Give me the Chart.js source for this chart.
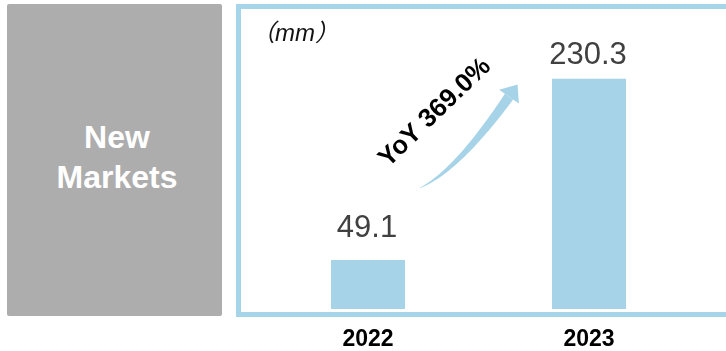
<!DOCTYPE html>
<html>
<head>
<meta charset="utf-8">
<title>New Markets</title>
<script src="https://cdn.jsdelivr.net/npm/chart.js@4.4.1/dist/chart.umd.min.js"></script>
<style>
  body {
    margin: 0;
    width: 726px;
    height: 351px;
    overflow: hidden;
    background: #fff;
    position: relative;
    font-family: "Liberation Sans", Arial, sans-serif;
  }
  #side {
    position: absolute;
    left: 7px;
    top: 4px;
    width: 215px;
    height: 312px;
    box-sizing: border-box;
    padding: 0 0 6px 5px;
    background: #adadad;
    border-radius: 2px;
    color: #fff;
    font-weight: bold;
    font-size: 32px;
    line-height: 40px;
    display: flex;
    align-items: center;
    justify-content: center;
    text-align: center;
  }
  #unit {
    position: absolute;
    left: 251px;
    top: 21px;
    font-size: 24px;
    line-height: 1;
    font-style: italic;
    color: #111;
    font-family: "Liberation Sans", "Noto Sans CJK SC", sans-serif;
  }
  #chart { position: absolute; left: 0; top: 0; }
</style>
</head>
<body>
<div id="side">New<br>Markets</div>
<canvas id="chart" width="726" height="351"></canvas>
<div id="unit">（mm）</div>

<script>
// Datos
const years = ["2022", "2023"];
const shipments = [49.1, 230.3];
const yMin = 0;
const yMax = 300;

const barColor = "#a6d3e7";
const fontFamily = "'Liberation Sans', Arial, sans-serif";

// Marco azul alrededor del gráfico
const framePlugin = {
  id: "frame",
  beforeDraw(chart) {
    const ctx = chart.ctx;
    ctx.save();
    ctx.strokeStyle = "#a6d4e8";
    ctx.lineWidth = 5;
    ctx.strokeRect(238.5, 6.5, 520, 308);
    ctx.restore();
  },
};

// Valores encima de las barras
const valueLabels = {
  id: "valueLabels",
  afterDatasetsDraw(chart) {
    const ctx = chart.ctx;
    const gaps = [23, 15];
    ctx.save();
    ctx.fillStyle = "#404040";
    ctx.font = "31px " + fontFamily;
    ctx.textAlign = "center";
    ctx.textBaseline = "alphabetic";
    chart.getDatasetMeta(0).data.forEach((bar, i) => {
      ctx.fillText(shipments[i].toFixed(1), bar.x - 1, bar.y - gaps[i]);
    });
    ctx.restore();
  },
};

// Flecha curva con el crecimiento interanual
const growthArrow = {
  id: "growthArrow",
  afterDraw(chart) {
    const ctx = chart.ctx;
    const bars = chart.getDatasetMeta(0).data;
    const a = bars[0], b = bars[1];

    const p0 = { x: a.x + 52, y: a.y - 72 };
    const c = { x: p0.x + 37, y: p0.y - 17 };
    const p1 = { x: b.x - 80, y: b.y + 18 };

    const n = 40;
    const left = [], right = [];
    let dx = 0, dy = 0;
    for (let i = 0; i <= n; i++) {
      const t = i / n;
      const x = (1 - t) * (1 - t) * p0.x + 2 * (1 - t) * t * c.x + t * t * p1.x;
      const y = (1 - t) * (1 - t) * p0.y + 2 * (1 - t) * t * c.y + t * t * p1.y;
      dx = 2 * (1 - t) * (c.x - p0.x) + 2 * t * (p1.x - c.x);
      dy = 2 * (1 - t) * (c.y - p0.y) + 2 * t * (p1.y - c.y);
      const len = Math.hypot(dx, dy);
      dx /= len; dy /= len;
      const hw = (0.5 + 9.5 * t) / 2;
      left.push([x - dy * hw, y + dx * hw]);
      right.push([x + dy * hw, y - dx * hw]);
    }

    ctx.save();
    ctx.fillStyle = barColor;
    ctx.beginPath();
    left.forEach(([x, y], i) => (i ? ctx.lineTo(x, y) : ctx.moveTo(x, y)));
    right.reverse().forEach(([x, y]) => ctx.lineTo(x, y));
    ctx.closePath();
    ctx.fill();

    // punta
    const headLen = 15, headHalf = 12;
    ctx.beginPath();
    ctx.moveTo(p1.x + dx * headLen, p1.y + dy * headLen);
    ctx.lineTo(p1.x - dy * headHalf, p1.y + dx * headHalf);
    ctx.lineTo(p1.x + dy * headHalf, p1.y - dx * headHalf);
    ctx.closePath();
    ctx.fill();

    // texto YoY
    const yoy = ((shipments[1] / shipments[0] - 1) * 100).toFixed(1);
    ctx.translate(a.x + 67, b.y + 34);
    ctx.rotate(-44 * Math.PI / 180);
    ctx.fillStyle = "#000";
    ctx.font = "bold 26px " + fontFamily;
    ctx.textAlign = "center";
    ctx.textBaseline = "middle";
    ctx.fillText("YoY " + yoy + "%", 0, 0);
    ctx.restore();
  },
};

const ctx = document.getElementById("chart").getContext("2d");
const chart = new Chart(ctx, {
  type: "bar",
  data: {
    labels: years,
    datasets: [
      {
        data: shipments,
        backgroundColor: barColor,
        barPercentage: 0.335,
        categoryPercentage: 1,
      },
    ],
  },
  options: {
    responsive: false,
    animation: false,
    layout: { padding: { left: 257.5, right: 26.5, top: 9, bottom: 0 } },
    plugins: {
      legend: { display: false },
      tooltip: { enabled: false },
    },
    scales: {
      x: {
        grid: { display: false, drawTicks: false },
        border: { display: false },
        ticks: {
          color: "#000",
          padding: 17,
          font: { family: fontFamily, size: 23, weight: "bold" },
        },
        afterFit: (scale) => {
          scale.height = 42;
        },
      },
      y: { display: false, min: yMin, max: yMax },
    },
  },
  plugins: [framePlugin, valueLabels, growthArrow],
});
</script>
</body>
</html>
